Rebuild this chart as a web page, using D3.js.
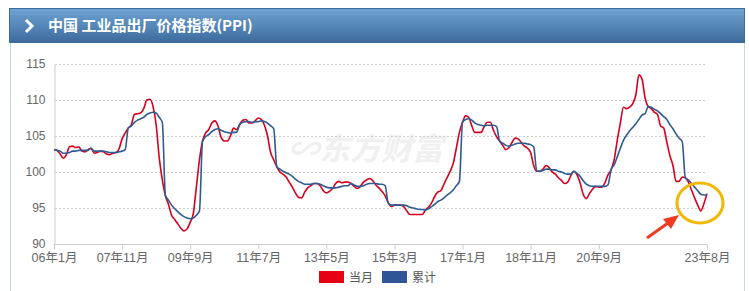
<!DOCTYPE html>
<html>
<head>
<meta charset="utf-8">
<script src="https://cdn.jsdelivr.net/npm/d3@7"></script>
<style>
  body { margin: 0; background: #fff; font-family: "Microsoft YaHei", "Noto Sans CJK SC", sans-serif; }
  svg { display: block; }
</style>
</head>
<body>
<div id="chart"></div>
<script>
// PPI, same month last year = 100, Jan 2006 .. Aug 2023
const monthly = [
  103.1, 103.0, 102.5, 101.9, 102.4, 103.5, 103.6, 103.4, 103.5, 102.9, 102.8, 103.1,
  103.3, 102.6, 102.7, 102.9, 102.8, 102.5, 102.4, 102.6, 102.7, 103.2, 104.6, 105.4,
  106.1, 106.6, 108.0, 108.1, 108.2, 108.8, 110.0, 110.1, 109.1, 106.6, 102.0, 98.9,
  96.7, 95.5, 94.0, 93.4, 92.8, 92.2, 91.8, 92.1, 93.0, 94.2, 97.9, 101.7,
  104.3, 105.4, 105.9, 106.8, 107.1, 106.4, 104.8, 104.3, 104.3, 105.0, 106.1, 105.9,
  106.6, 107.2, 107.3, 106.8, 106.8, 107.1, 107.5, 107.3, 106.5, 105.0, 102.7, 101.7,
  100.7, 100.0, 99.7, 99.3, 98.6, 97.9, 97.1, 96.5, 96.4, 97.2, 97.8, 98.1,
  98.4, 98.4, 98.1, 97.4, 97.1, 97.3, 97.7, 98.4, 98.7, 98.5, 98.6, 98.6,
  98.4, 98.0, 97.7, 98.0, 98.6, 98.9, 99.1, 98.8, 98.2, 97.8, 97.3, 96.7,
  95.7, 95.2, 95.4, 95.4, 95.4, 95.2, 94.6, 94.1, 94.1, 94.1, 94.1, 94.1,
  94.7, 95.1, 95.7, 96.6, 97.2, 97.4, 98.3, 99.2, 100.1, 101.2, 103.3, 105.5,
  106.9, 107.8, 107.6, 106.4, 105.5, 105.5, 105.5, 106.3, 106.9, 106.9, 105.8, 104.9,
  104.3, 103.7, 103.1, 103.4, 104.1, 104.7, 104.6, 104.1, 103.6, 103.3, 102.7, 100.9,
  100.1, 100.1, 100.4, 100.9, 100.6, 100.0, 99.7, 99.2, 98.8, 98.4, 98.6, 99.5,
  100.1, 99.6, 98.5, 96.9, 96.3, 97.0, 97.6, 98.0, 97.9, 97.9, 98.5, 99.6,
  100.3, 101.7, 104.4, 106.8, 109.0, 108.8, 109.0, 109.5, 110.7, 113.5, 112.9, 110.3,
  109.1, 108.8, 108.3, 108.0, 106.4, 106.1, 104.2, 102.3, 100.9, 98.7, 98.7, 99.3,
  99.2, 98.6, 97.5, 96.4, 95.4, 94.6, 95.6, 97.0
];

// year-to-date PPI, same period last year = 100
const cumulative = [
  103.1, 103.0, 102.9, 102.6, 102.6, 102.7, 102.9, 102.9, 103.0, 103.0, 103.0, 103.0,
  103.3, 102.9, 102.9, 102.9, 102.9, 102.8, 102.7, 102.7, 102.7, 102.8, 102.9, 103.1,
  106.1, 106.4, 106.9, 107.2, 107.4, 107.6, 108.0, 108.2, 108.3, 108.2, 107.6, 106.9,
  96.7, 96.1, 95.4, 94.9, 94.5, 94.1, 93.8, 93.6, 93.5, 93.6, 94.0, 94.6,
  104.3, 104.9, 105.2, 105.6, 105.9, 106.0, 105.8, 105.6, 105.5, 105.4, 105.5, 105.5,
  106.6, 106.9, 107.0, 107.0, 106.9, 107.0, 107.0, 107.1, 107.0, 106.8, 106.4, 106.0,
  100.7, 100.4, 100.1, 99.9, 99.7, 99.4, 99.0, 98.7, 98.5, 98.3, 98.3, 98.3,
  98.4, 98.4, 98.3, 98.1, 97.9, 97.8, 97.8, 97.8, 97.9, 98.0, 98.1, 98.1,
  98.4, 98.2, 98.0, 98.0, 98.1, 98.3, 98.4, 98.4, 98.4, 98.3, 98.3, 98.1,
  95.7, 95.4, 95.4, 95.4, 95.4, 95.4, 95.3, 95.1, 95.0, 94.9, 94.8, 94.8,
  94.7, 94.9, 95.2, 95.5, 95.9, 96.1, 96.4, 96.8, 97.1, 97.5, 98.1, 98.7,
  106.9, 107.3, 107.4, 107.2, 106.8, 106.6, 106.5, 106.4, 106.5, 106.5, 106.5, 106.3,
  104.3, 104.0, 103.7, 103.6, 103.7, 103.9, 104.0, 104.0, 104.0, 103.9, 103.8, 103.5,
  100.1, 100.1, 100.2, 100.4, 100.4, 100.3, 100.3, 100.1, 100.0, 99.8, 99.7, 99.7,
  100.1, 99.8, 99.4, 98.8, 98.3, 98.1, 98.0, 98.0, 98.0, 98.0, 98.0, 98.2,
  100.3, 101.0, 102.1, 103.3, 104.4, 105.1, 105.7, 106.2, 106.7, 107.3, 107.9, 108.1,
  109.1, 109.0, 108.7, 108.5, 108.1, 107.7, 107.3, 106.6, 106.0, 105.3, 104.7, 104.2,
  99.2, 98.9, 98.4, 97.9, 97.4, 96.9, 96.8, 96.8
];

const tickLabels = ['06年1月', '07年11月', '09年9月', '11年7月', '13年5月', '15年3月',
                    '17年1月', '18年11月', '20年9月', '23年8月'];
const tickMonths = [0, 22, 44, 66, 88, 110, 132, 154, 176, 211];
const yTicks = [90, 95, 100, 105, 110, 115];
const seriesNames = ['当月', '累计'];

const width = 749;
const height = 291;
const red = '#d7001d';
const blue = '#2f5b93';

const svg = d3.select('#chart')
    .append('svg')
    .attr('width', width)
    .attr('height', height);

// header bar
const defs = svg.append('defs');
const grad = defs.append('linearGradient')
    .attr('id', 'hdr')
    .attr('x1', 0).attr('y1', 0).attr('x2', 0).attr('y2', 1);
grad.append('stop').attr('offset', '0%').attr('stop-color', '#6fa3d4');
grad.append('stop').attr('offset', '100%').attr('stop-color', '#3b6b9c');

// panel outline
svg.append('path')
    .attr('d', 'M10.5,43 V291 M744.5,43 V291')
    .attr('stroke', '#c9d6e3')
    .attr('fill', 'none');

svg.append('rect')
    .attr('x', 9.5).attr('y', 8.5)
    .attr('width', 735).attr('height', 34)
    .attr('fill', 'url(#hdr)')
    .attr('stroke', '#3e6c99');

svg.append('path')
    .attr('d', 'M26,20 L32,26 L26,32')
    .attr('stroke', '#fff')
    .attr('stroke-width', 3)
    .attr('fill', 'none');

svg.append('text')
    .attr('x', 48).attr('y', 31)
    .attr('fill', '#fff')
    .style('font-size', '15px')
    .style('font-weight', 'bold')
    .text('中国 工业品出厂价格指数(PPI)');

// watermark
svg.append('text')
    .attr('x', 288).attr('y', 160)
    .attr('fill', '#f0f0f0')
    .style('font-size', '31px')
    .style('font-weight', 'bold')
    .style('font-style', 'italic')
    .text('∽东方财富');

const x = d3.scaleLinear().domain([0, 211]).range([54, 707]);
const y = d3.scaleLinear().domain([90, 115]).range([244, 64]);

// grid
svg.append('g')
    .selectAll('line')
    .data(yTicks.slice(1))
    .join('line')
    .attr('x1', 55).attr('x2', 705)
    .attr('y1', d => Math.round(y(d)) + 0.5)
    .attr('y2', d => Math.round(y(d)) + 0.5)
    .attr('stroke', '#cfcfcf')
    .attr('stroke-dasharray', '2,2');

// y axis
const yAxis = svg.append('g')
    .attr('transform', 'translate(54.5,0)')
    .call(d3.axisLeft(y).tickValues(yTicks).tickSize(0).tickPadding(9));
yAxis.select('.domain').attr('stroke', '#ccc');
yAxis.selectAll('text')
    .attr('fill', '#666')
    .attr('dy', '0.3em')
    .style('font-size', '12px')
    .style('font-family', '"Liberation Sans", Arial, sans-serif');

// x axis
const xAxis = svg.append('g')
    .attr('transform', 'translate(0,244.5)')
    .call(d3.axisBottom(x)
        .tickValues(tickMonths)
        .tickFormat((d, i) => tickLabels[i])
        .tickSize(5)
        .tickPadding(4));
xAxis.select('.domain').attr('stroke', '#ccc').attr('d', 'M54,0H707');
xAxis.selectAll('line').attr('stroke', '#ccc');
xAxis.selectAll('text')
    .attr('fill', '#666')
    .style('font-size', '12.5px')
    .style('font-family', '"Liberation Sans", "Noto Sans CJK SC", sans-serif');

// series
const line = d3.line()
    .x((d, i) => x(i))
    .y(d => y(d))
    .curve(d3.curveMonotoneX);

svg.append('path')
    .datum(monthly)
    .attr('d', line)
    .attr('fill', 'none')
    .attr('stroke', red)
    .attr('stroke-width', 1.6);

svg.append('path')
    .datum(cumulative)
    .attr('d', line)
    .attr('fill', 'none')
    .attr('stroke', blue)
    .attr('stroke-width', 1.6);

// annotation
svg.append('ellipse')
    .attr('cx', 700).attr('cy', 203)
    .attr('rx', 23).attr('ry', 20)
    .attr('fill', 'none')
    .attr('stroke', '#f2b705')
    .attr('stroke-width', 3);

svg.append('line')
    .attr('x1', 647).attr('y1', 238)
    .attr('x2', 668).attr('y2', 223)
    .attr('stroke', '#f03a22')
    .attr('stroke-width', 3);
svg.append('path')
    .attr('d', 'M679,215 L663,219 L671,229 Z')
    .attr('fill', '#f03a22');

// legend
const legend = svg.append('g')
    .selectAll('g')
    .data(seriesNames)
    .join('g')
    .attr('transform', (d, i) => `translate(${319 + i * 63},271)`);

legend.append('rect')
    .attr('width', 25).attr('height', 12)
    .attr('fill', (d, i) => i === 0 ? '#e60012' : '#2f5597');

legend.append('text')
    .attr('x', 30).attr('y', 11)
    .attr('fill', '#555')
    .style('font-size', '12px')
    .text(d => d);
</script>
</body>
</html>
